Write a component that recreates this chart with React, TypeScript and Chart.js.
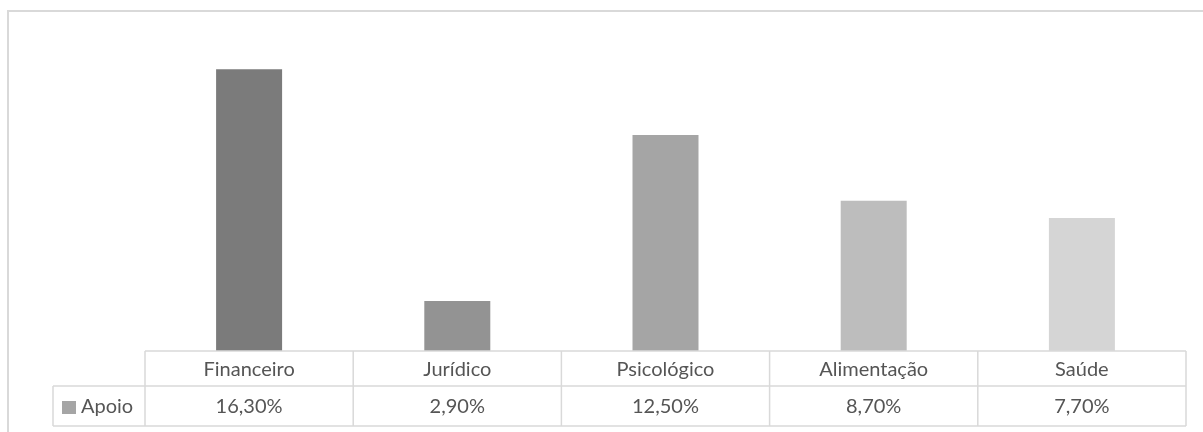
import React, { useEffect, useRef } from "react";
import { Chart, registerables } from "chart.js";

Chart.register(...registerables);

const categories = ["Financeiro", "Jurídico", "Psicológico", "Alimentação", "Saúde"];
const seriesName = "Apoio";
const apoioValues = [16.3, 2.9, 12.5, 8.7, 7.7];
const barColors = ["#7b7b7b", "#939393", "#a5a5a5", "#bdbdbd", "#d5d5d5"];
const legendColor = "#a5a5a5";

const W = 1203;
const H = 432;
const FONT = "20px Lato, 'Open Sans', sans-serif";
const TEXT = "#555555";
const GRID = "#d9d9d9";

const fmt = (v: number) => v.toFixed(2).replace(".", ",") + "%";

// Outer frame plus an Excel-style data table under the columns
const tablePlugin = {
  id: "dataTable",
  afterDraw(chart: any) {
    const ctx = chart.ctx as CanvasRenderingContext2D;
    const x = chart.scales.x;
    const area = chart.chartArea;
    const n = categories.length;
    const colW = (area.right - area.left) / n;
    const headerTop = area.bottom;
    const rowMid = headerTop + 35;
    const rowBottom = headerTop + 75;
    const labelLeft = 53;

    ctx.save();
    // chart frame
    ctx.strokeStyle = GRID;
    ctx.lineWidth = 2;
    ctx.beginPath();
    ctx.moveTo(8, H + 5);
    ctx.lineTo(8, 11);
    ctx.lineTo(W + 5, 11);
    ctx.stroke();

    // table grid
    ctx.lineWidth = 1.5;
    ctx.beginPath();
    ctx.moveTo(area.left, headerTop);
    ctx.lineTo(area.right, headerTop);
    ctx.moveTo(labelLeft, rowMid);
    ctx.lineTo(area.right, rowMid);
    ctx.moveTo(labelLeft, rowBottom);
    ctx.lineTo(area.right, rowBottom);
    ctx.moveTo(labelLeft, rowMid);
    ctx.lineTo(labelLeft, rowBottom);
    for (let i = 0; i <= n; i++) {
      const bx = area.left + i * colW;
      ctx.moveTo(bx, headerTop);
      ctx.lineTo(bx, rowBottom);
    }
    ctx.stroke();

    // texts
    ctx.fillStyle = TEXT;
    ctx.font = FONT;
    ctx.textAlign = "center";
    ctx.textBaseline = "middle";
    const values = chart.data.datasets[0].data as number[];
    for (let i = 0; i < n; i++) {
      const cx = x.getPixelForValue(i);
      ctx.fillText(categories[i], cx, (headerTop + rowMid) / 2 + 1);
      ctx.fillText(fmt(values[i]), cx, (rowMid + rowBottom) / 2 + 1);
    }

    // series key
    ctx.fillStyle = legendColor;
    ctx.fillRect(62, 401, 14, 13);
    ctx.fillStyle = TEXT;
    ctx.textAlign = "left";
    ctx.fillText(seriesName, 81, (rowMid + rowBottom) / 2 + 1);
    ctx.restore();
  },
};

export default function App() {
  const ref = useRef<HTMLCanvasElement>(null);

  useEffect(() => {
    if (!ref.current) return;
    const chart = new Chart(ref.current, {
      type: "bar",
      data: {
        labels: categories,
        datasets: [
          {
            label: seriesName,
            data: apoioValues,
            backgroundColor: barColors,
            borderWidth: 0,
            barPercentage: 0.317,
            categoryPercentage: 1,
          },
        ],
      },
      options: {
        responsive: false,
        animation: false,
        layout: { padding: { left: 145, right: 17, top: 40, bottom: 81 } },
        scales: {
          x: { display: false, offset: true },
          y: { display: false, min: 0, max: 18 },
        },
        plugins: { legend: { display: false }, tooltip: { enabled: false } },
      },
      plugins: [tablePlugin],
    });
    return () => chart.destroy();
  }, []);

  return (
    <div style={{ position: "absolute", left: 0, top: 0, width: W, height: H, background: "#fff" }}>
      <canvas ref={ref} width={W} height={H} />
    </div>
  );
}
